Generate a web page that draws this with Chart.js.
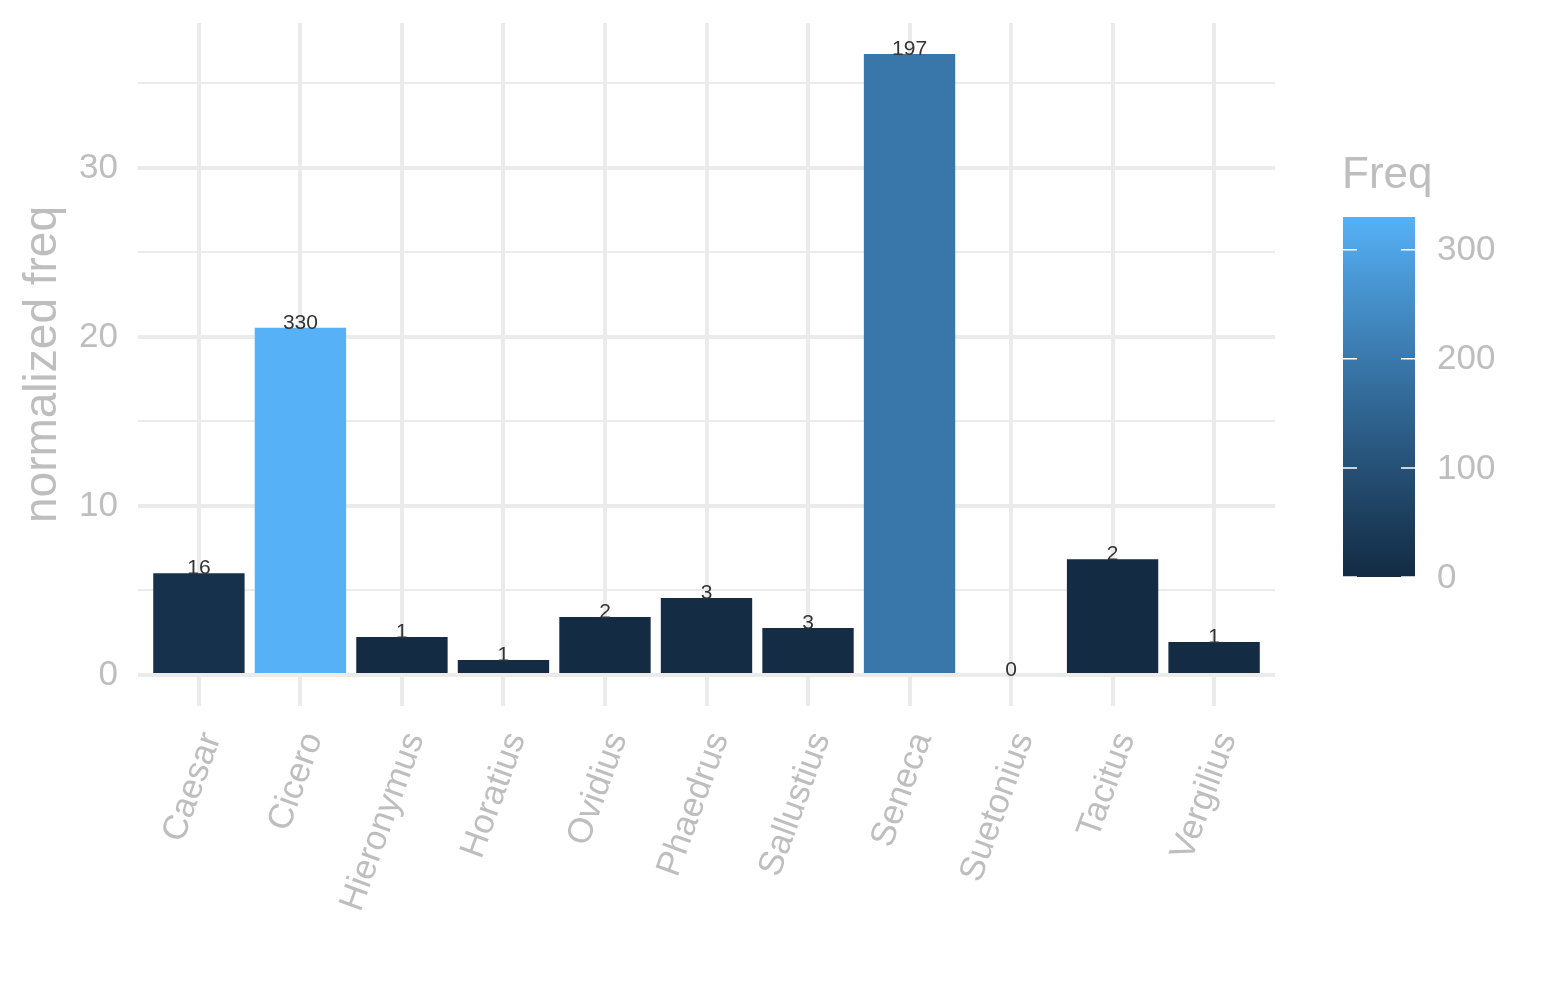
<!DOCTYPE html>
<html>
<head>
<meta charset="utf-8">
<script src="https://cdn.jsdelivr.net/npm/chart.js@4.4.0/dist/chart.umd.min.js"></script>
<style>
  html, body { margin: 0; background: #fff; }
</style>
</head>
<body>
<canvas id="myChart" width="1545" height="1000"></canvas>
<script>
// data
const authors = ['Caesar', 'Cicero', 'Hieronymus', 'Horatius', 'Ovidius', 'Phaedrus',
  'Sallustius', 'Seneca', 'Suetonius', 'Tacitus', 'Vergilius'];
const normFreq = [6.02, 20.55, 2.24, 0.88, 3.43, 4.55, 2.78, 36.74, 0, 6.85, 1.95];
const freq = [16, 330, 1, 1, 2, 3, 3, 197, 0, 2, 1];
const yMajorTicks = [0, 10, 20, 30];
const yMinorTicks = [5, 15, 25, 35];
const legendTicks = [0, 100, 200, 300];

const FONT = '"Liberation Sans", Arial, sans-serif';
const GREY = '#BEBEBE';
const GRID = '#EBEBEB';
const LOW = '#132B43';
const HIGH = '#56B1F7';

// ggplot-style gradient, interpolated in Lab
function hexToRgb(h) { return [1, 3, 5].map(i => parseInt(h.slice(i, i + 2), 16)); }
function toLin(c) { c /= 255; return c <= 0.04045 ? c / 12.92 : Math.pow((c + 0.055) / 1.055, 2.4); }
function fromLin(c) {
  const v = c <= 0.0031308 ? 12.92 * c : 1.055 * Math.pow(c, 1 / 2.4) - 0.055;
  return Math.round(Math.max(0, Math.min(1, v)) * 255);
}
function rgbToLab(rgb) {
  const [r, g, b] = rgb.map(toLin);
  const x = (0.4124 * r + 0.3576 * g + 0.1805 * b) / 0.95047;
  const y = 0.2126 * r + 0.7152 * g + 0.0722 * b;
  const z = (0.0193 * r + 0.1192 * g + 0.9505 * b) / 1.08883;
  const f = t => t > 0.008856 ? Math.cbrt(t) : 7.787 * t + 16 / 116;
  const fx = f(x), fy = f(y), fz = f(z);
  return [116 * fy - 16, 500 * (fx - fy), 200 * (fy - fz)];
}
function labToRgb(lab) {
  const fy = (lab[0] + 16) / 116, fx = fy + lab[1] / 500, fz = fy - lab[2] / 200;
  const finv = t => t * t * t > 0.008856 ? t * t * t : (t - 16 / 116) / 7.787;
  const x = finv(fx) * 0.95047, y = finv(fy), z = finv(fz) * 1.08883;
  const r = 3.2406 * x - 1.5372 * y - 0.4986 * z;
  const g = -0.9689 * x + 1.8758 * y + 0.0415 * z;
  const b = 0.0557 * x - 0.2040 * y + 1.0570 * z;
  return [r, g, b].map(fromLin);
}
const labLow = rgbToLab(hexToRgb(LOW));
const labHigh = rgbToLab(hexToRgb(HIGH));
const fMin = Math.min(...freq), fMax = Math.max(...freq);
function fillColour(v) {
  const t = (v - fMin) / (fMax - fMin);
  const rgb = labToRgb(labLow.map((l, i) => l + (labHigh[i] - l) * t));
  return 'rgb(' + rgb.join(',') + ')';
}

const yTop = Math.max(...normFreq);

const barLabels = {
  id: 'barLabels',
  afterDatasetsDraw(chart) {
    const ctx = chart.ctx;
    const meta = chart.getDatasetMeta(0);
    ctx.save();
    ctx.font = '21px ' + FONT;
    ctx.fillStyle = '#333333';
    ctx.textAlign = 'center';
    ctx.textBaseline = 'alphabetic';
    meta.data.forEach((el, i) => {
      ctx.fillText(String(freq[i]), el.x, el.y + 1);
    });
    ctx.restore();
  }
};

const colourBar = {
  id: 'colourBar',
  afterDraw(chart) {
    const ctx = chart.ctx;
    const left = 1343, width = 72, top = 217, bottom = 577;
    const toY = v => bottom - (v - fMin) / (fMax - fMin) * (bottom - top);
    ctx.save();
    for (let py = top; py < bottom; py++) {
      const v = fMin + (bottom - py - 0.5) / (bottom - top) * (fMax - fMin);
      ctx.fillStyle = fillColour(v);
      ctx.fillRect(left, py, width, 1);
    }
    ctx.strokeStyle = '#ffffff';
    ctx.lineWidth = 1.5;
    legendTicks.forEach(v => {
      const y = toY(v);
      ctx.beginPath();
      ctx.moveTo(left, y); ctx.lineTo(left + 14, y);
      ctx.moveTo(left + width - 14, y); ctx.lineTo(left + width, y);
      ctx.stroke();
    });
    ctx.fillStyle = GREY;
    ctx.font = '35px ' + FONT;
    ctx.textAlign = 'left';
    ctx.textBaseline = 'middle';
    legendTicks.forEach(v => ctx.fillText(String(v), 1437, toY(v) + 1));
    ctx.font = '44px ' + FONT;
    ctx.fillText('Freq', 1342, 176);
    ctx.restore();
  }
};

new Chart(document.getElementById('myChart'), {
  type: 'bar',
  data: {
    datasets: [{
      data: normFreq.map((v, i) => ({ x: i, y: v })),
      backgroundColor: freq.map(fillColour),
      barPercentage: 0.9,
      categoryPercentage: 1,
      borderWidth: 0
    }]
  },
  options: {
    responsive: false,
    animation: false,
    devicePixelRatio: 1,
    layout: { padding: { top: 23, right: 270, left: 0, bottom: 0 } },
    plugins: { legend: { display: false }, tooltip: { enabled: false } },
    scales: {
      x: {
        type: 'linear',
        offset: false,
        min: -0.6,
        max: authors.length - 0.4,
        afterBuildTicks: s => { s.ticks = authors.map((a, i) => ({ value: i })); },
        afterFit: s => { s.height = 294; s.paddingLeft = 0; s.paddingRight = 0; },
        border: { display: false },
        grid: { color: GRID, lineWidth: 4, drawTicks: false, offset: false },
        ticks: {
          autoSkip: false,
          minRotation: 70,
          maxRotation: 70,
          padding: 21,
          labelOffset: 13,
          color: GREY,
          font: { family: FONT, size: 35 },
          callback: v => authors[v]
        }
      },
      y: {
        min: -0.05 * yTop,
        max: 1.05 * yTop,
        afterBuildTicks: s => {
          s.ticks = [...yMajorTicks, ...yMinorTicks].sort((a, b) => a - b).map(v => ({ value: v }));
        },
        afterFit: s => { s.width = 138; s.paddingTop = 0; s.paddingBottom = 0; },
        border: { display: false },
        grid: {
          color: GRID,
          drawTicks: false,
          lineWidth: c => (yMajorTicks.includes(c.tick.value) ? 4 : 2)
        },
        ticks: {
          autoSkip: false,
          padding: 20,
          color: GREY,
          font: { family: FONT, size: 35 },
          callback: v => (yMajorTicks.includes(v) ? v : '')
        },
        title: {
          display: true,
          text: 'normalized freq',
          color: GREY,
          font: { family: FONT, size: 46 },
          padding: { top: 16, bottom: 0 }
        }
      }
    }
  },
  plugins: [barLabels, colourBar]
});
</script>
</body>
</html>
